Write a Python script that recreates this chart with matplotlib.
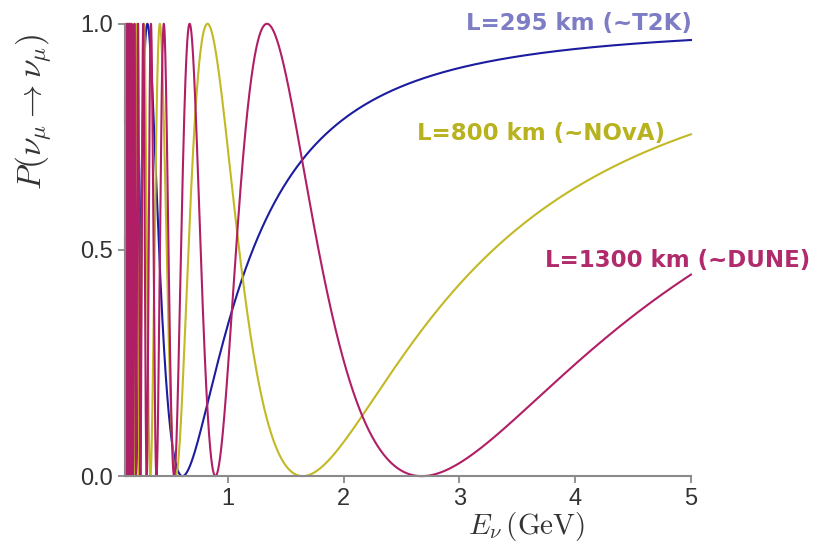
import numpy as np
import matplotlib
matplotlib.use("Agg")
import matplotlib.pyplot as plt

# two-flavour muon-neutrino survival probability, parameters
baselines_km = [295, 800, 1300]
labels = ["L=295 km (~T2K)", "L=800 km (~NOvA)", "L=1300 km (~DUNE)"]
dm2_ev2 = 2.55e-3
sin2_2theta = 1.0
e_min, e_max = 0.11, 5.0
y_ticks = [0.0, 0.5, 1.0]
x_ticks = [1, 2, 3, 4, 5]

line_colors = ["#1c1ca0", "#c2b925", "#b01e66"]
text_colors = ["#7d7dc6", "#b8b21e", "#b02a6c"]
label_xy = [(5.01, 0.976), (4.78, 0.732), (6.03, 0.451)]

plt.rcParams["mathtext.fontset"] = "cm"
plt.rcParams["font.family"] = ["Liberation Sans", "DejaVu Sans"]

fig = plt.figure(figsize=(8.25, 5.53), dpi=100)
ax = fig.add_axes([0.1515, 0.139, 0.686, 0.818])

E = np.linspace(e_min, e_max, 40000)
for L, c in zip(baselines_km, line_colors):
    P = 1 - sin2_2theta * np.sin(1.267 * dm2_ev2 * L / E) ** 2
    ax.plot(E, P, color=c, lw=1.5, clip_on=False)

for lab, (x, y), c in zip(labels, label_xy, text_colors):
    ax.text(x, y, lab, color=c, fontsize=16.5, fontweight="bold",
            family=["DejaVu Sans"], ha="right", va="bottom")

ax.set_xlim(e_min, e_max)
ax.set_ylim(0, 1)
ax.set_xticks(x_ticks)
ax.set_yticks(y_ticks)
ax.set_yticklabels([f"{v:.1f}" for v in y_ticks])
for s in ["top", "right"]:
    ax.spines[s].set_visible(False)
for s in ["left", "bottom"]:
    ax.spines[s].set_color("#8a8a8a")
    ax.spines[s].set_linewidth(1.5)
ax.tick_params(colors="#8a8a8a", labelcolor="#333333", labelsize=17,
               length=5, width=1.3, direction="out")
ax.set_xlabel(r"$E_\nu\,(\mathrm{GeV})$", fontsize=21, color="#333333")
ax.set_ylabel(r"$P(\nu_\mu\rightarrow\nu_\mu)$", fontsize=24, color="#333333")
ax.xaxis.set_label_coords(0.71, -0.075)
ax.yaxis.set_label_coords(-0.125, 0.805)

fig.savefig("out.png", dpi=100)
